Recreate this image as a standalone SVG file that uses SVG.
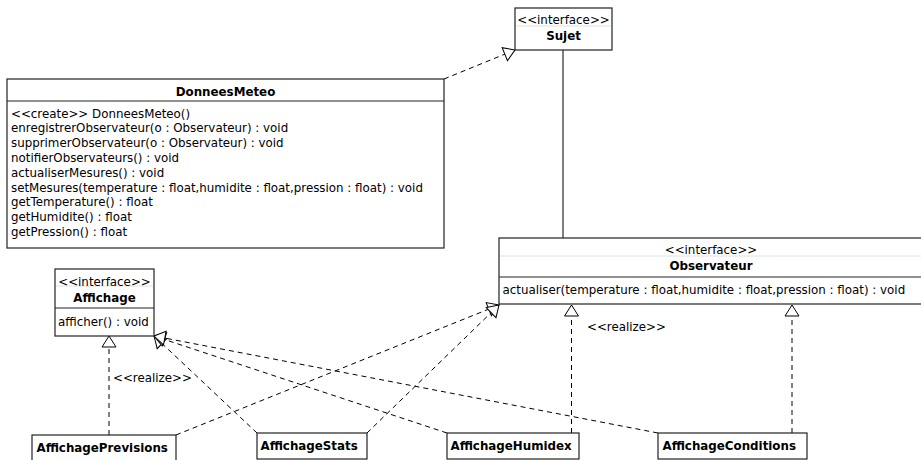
<svg xmlns="http://www.w3.org/2000/svg" width="921" height="460" viewBox="0 0 921 460">
  <style>
    text { font-family: "DejaVu Sans", "Liberation Sans", sans-serif; font-size: 11.85px; fill: #000; }
    .b { font-weight: bold; }
    .c { text-anchor: middle; }
    .box { fill: #fff; stroke: #222; stroke-width: 1.2; }
    .sep { stroke: #222; stroke-width: 1.2; }
    .lite { stroke: #e0e0e0; stroke-width: 1; }
    .dash { fill: none; stroke: #000; stroke-width: 1; stroke-dasharray: 5,4; marker-end: url(#tri); }
    .solid { fill: none; stroke: #000; stroke-width: 1; }
  </style>
  <defs>
    <marker id="tri" markerUnits="userSpaceOnUse" markerWidth="16" markerHeight="18" viewBox="-13 -9 14 18" refX="0" refY="0" orient="auto">
      <path d="M0,0 L-11,-7 L-11,7 Z" fill="#fff" stroke="#000" stroke-width="1"/>
    </marker>
  </defs>

  <!-- connectors -->
  <g id="connectors">
    <line class="solid" x1="563" y1="50" x2="563" y2="238"/>
    <line class="dash" x1="444" y1="79" x2="515" y2="50"/>
    <line class="dash" x1="176" y1="435" x2="499" y2="305"/>
    <line class="dash" x1="367" y1="433" x2="499" y2="305"/>
    <line class="dash" x1="257" y1="433" x2="154" y2="336"/>
    <line class="dash" x1="447" y1="433" x2="154" y2="336"/>
    <line class="dash" x1="658" y1="433" x2="154" y2="336"/>
    <line class="dash" x1="109" y1="435" x2="109" y2="336"/>
    <line class="dash" x1="571.5" y1="433" x2="571.5" y2="305"/>
    <line class="dash" x1="792" y1="433" x2="792" y2="305"/>
    <text x="113" y="382">&lt;&lt;realize&gt;&gt;</text>
    <text x="587" y="331">&lt;&lt;realize&gt;&gt;</text>
  </g>

  <!-- Sujet -->
  <g id="sujet">
    <rect class="box" x="515" y="8" width="97" height="42"/>
    <line class="lite" x1="516" y1="26" x2="611" y2="26"/>
    <text class="c" x="563.5" y="24">&lt;&lt;interface&gt;&gt;</text>
    <text class="c b" x="563.5" y="40">Sujet</text>
  </g>

  <!-- DonneesMeteo -->
  <g id="donneesMeteo">
    <rect class="box" x="7" y="79" width="437" height="169"/>
    <line class="sep" x1="7" y1="101" x2="444" y2="101"/>
    <text class="c b" x="225.5" y="96">DonneesMeteo</text>
    <text x="11" y="117.5">&lt;&lt;create&gt;&gt; DonneesMeteo()</text>
    <text x="11" y="132.3">enregistrerObservateur(o : Observateur) : void</text>
    <text x="11" y="147.1">supprimerObservateur(o : Observateur) : void</text>
    <text x="11" y="161.9">notifierObservateurs() : void</text>
    <text x="11" y="176.7">actualiserMesures() : void</text>
    <text x="11" y="191.5">setMesures(temperature : float,humidite : float,pression : float) : void</text>
    <text x="11" y="206.3">getTemperature() : float</text>
    <text x="11" y="221.1">getHumidite() : float</text>
    <text x="11" y="235.9">getPression() : float</text>
  </g>

  <!-- Observateur -->
  <g id="observateur">
    <rect class="box" x="499" y="238" width="425" height="66"/>
    <line class="lite" x1="500" y1="256" x2="921" y2="256"/>
    <line class="sep" x1="499" y1="277" x2="921" y2="277"/>
    <text class="c" x="711" y="254">&lt;&lt;interface&gt;&gt;</text>
    <text class="c b" x="711" y="270">Observateur</text>
    <text x="502.5" y="293.5">actualiser(temperature : float,humidite : float,pression : float) : void</text>
  </g>

  <!-- Affichage -->
  <g id="affichage">
    <rect class="box" x="55" y="269" width="99" height="67"/>
    <line class="lite" x1="56" y1="286" x2="153" y2="286"/>
    <line class="sep" x1="55" y1="308" x2="154" y2="308"/>
    <text class="c" x="104.5" y="286">&lt;&lt;interface&gt;&gt;</text>
    <text class="c b" x="104.5" y="302">Affichage</text>
    <text x="58" y="326">afficher() : void</text>
  </g>

  <!-- concrete displays -->
  <g id="affichagePrevisions">
    <rect class="box" x="32" y="435" width="144" height="30"/>
    <text class="b" x="36.5" y="452">AffichagePrevisions</text>
  </g>
  <g id="affichageStats">
    <rect class="box" x="257" y="433" width="110" height="26"/>
    <text class="b" x="260.5" y="450">AffichageStats</text>
  </g>
  <g id="affichageHumidex">
    <rect class="box" x="447" y="433" width="132" height="26"/>
    <text class="b" x="450.5" y="450">AffichageHumidex</text>
  </g>
  <g id="affichageConditions">
    <rect class="box" x="658" y="433" width="149" height="26"/>
    <text class="b" x="662.5" y="450">AffichageConditions</text>
  </g>
</svg>
